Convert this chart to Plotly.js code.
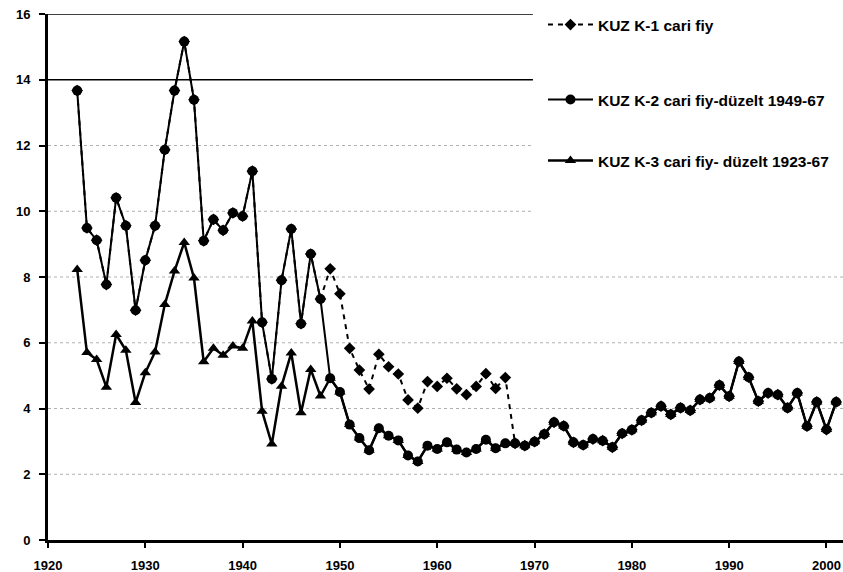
<!DOCTYPE html>
<html>
<head>
<meta charset="utf-8">
<script src="https://cdn.plot.ly/plotly-3.0.1.min.js"></script>
<style>html,body{margin:0;padding:0;background:#fff;}#chart{width:843px;height:572px;}</style>
</head>
<body>
<div id="chart"></div>
<script>
const years = [1923,1924,1925,1926,1927,1928,1929,1930,1931,1932,1933,1934,1935,1936,1937,1938,1939,1940,
  1941,1942,1943,1944,1945,1946,1947,1948,1949,1950,1951,1952,1953,1954,1955,1956,1957,1958,1959,1960,
  1961,1962,1963,1964,1965,1966,1967,1968,1969,1970,1971,1972,1973,1974,1975,1976,1977,1978,1979,1980,
  1981,1982,1983,1984,1985,1986,1987,1988,1989,1990,1991,1992,1993,1994,1995,1996,1997,1998,1999,2000,2001];

// KUZ K-1 cari fiy (identical to K-2 before 1949 and after 1967)
const k1 = [13.67,9.49,9.12,7.77,10.41,9.56,6.99,8.51,9.56,11.87,13.67,15.16,13.39,9.10,9.75,9.42,9.95,9.85,
  11.22,6.62,4.90,7.90,9.46,6.58,8.70,7.33,8.25,7.49,5.83,5.17,4.59,5.65,5.27,5.05,4.26,4.01,4.82,4.67,
  4.92,4.60,4.42,4.67,5.06,4.61,4.94,2.94,2.87,2.99,3.22,3.58,3.47,2.97,2.89,3.07,3.02,2.82,3.24,3.35,
  3.64,3.87,4.07,3.82,4.02,3.94,4.27,4.32,4.71,4.37,5.43,4.95,4.22,4.47,4.42,4.02,4.47,3.46,4.20,3.36,4.20];

// KUZ K-2 cari fiy-düzelt 1949-67
const k2 = [13.67,9.49,9.12,7.77,10.41,9.56,6.99,8.51,9.56,11.87,13.67,15.16,13.39,9.10,9.75,9.42,9.95,9.85,
  11.22,6.62,4.90,7.90,9.46,6.58,8.70,7.33,4.92,4.50,3.51,3.10,2.73,3.40,3.17,3.03,2.57,2.39,2.87,2.77,
  2.97,2.75,2.66,2.77,3.05,2.79,2.94,2.94,2.87,2.99,3.22,3.58,3.47,2.97,2.89,3.07,3.02,2.82,3.24,3.35,
  3.64,3.87,4.07,3.82,4.02,3.94,4.27,4.32,4.71,4.37,5.43,4.95,4.22,4.47,4.42,4.02,4.47,3.46,4.20,3.36,4.20];

// KUZ K-3 cari fiy- düzelt 1923-67
const k3 = [8.23,5.70,5.49,4.65,6.25,5.77,4.18,5.09,5.72,7.16,8.18,9.05,7.97,5.42,5.83,5.62,5.90,5.83,
  6.66,3.92,2.92,4.68,5.69,3.87,5.19,4.38,4.92,4.50,3.51,3.10,2.73,3.40,3.17,3.03,2.57,2.39,2.87,2.77,
  2.97,2.75,2.66,2.77,3.05,2.79,2.94,2.94,2.87,2.99,3.22,3.58,3.47,2.97,2.89,3.07,3.02,2.82,3.24,3.35,
  3.64,3.87,4.07,3.82,4.02,3.94,4.27,4.32,4.71,4.37,5.43,4.95,4.22,4.47,4.42,4.02,4.47,3.46,4.20,3.36,4.20];

const names = ['KUZ K-1 cari fiy', 'KUZ K-2 cari fiy-düzelt 1949-67', 'KUZ K-3 cari fiy- düzelt 1923-67'];
const xTicks = [1920,1930,1940,1950,1960,1970,1980,1990,2000];
const yTicks = [0,2,4,6,8,10,12,14,16];

const FONT = '"Liberation Sans", Arial, sans-serif';

const traces = [
  {x: years, y: k3, name: names[2], type: 'scatter', mode: 'lines+markers', legend: 'legend3', showlegend: true,
   line: {color: '#000', width: 2.5}, marker: {symbol: 'triangle-up', size: 10, color: '#000'}},
  {x: years, y: k1, name: names[0], type: 'scatter', mode: 'lines+markers', legend: 'legend', showlegend: true,
   line: {color: '#000', width: 2, dash: '5px,5px'}, marker: {symbol: 'diamond', size: 9, color: '#000'}},
  {x: years, y: k2, name: names[1], type: 'scatter', mode: 'lines+markers', legend: 'legend2', showlegend: true,
   line: {color: '#000', width: 2}, marker: {symbol: 'circle', size: 10, color: '#000'}}
];

const gridShapes = [];
[2,4,6,8].forEach(v => gridShapes.push({type:'line', xref:'paper', yref:'y', x0:0, x1:1, y0:v, y1:v,
  line:{color:'#b0b0b0', width:1, dash:'dot'}, layer:'below'}));
[10,12].forEach(v => gridShapes.push({type:'line', xref:'paper', yref:'y', x0:0, x1:0.61, y0:v, y1:v,
  line:{color:'#b0b0b0', width:1, dash:'dot'}, layer:'below'}));
[14,16].forEach(v => gridShapes.push({type:'line', xref:'paper', yref:'y', x0:0, x1:0.61, y0:v, y1:v,
  line:{color:'#000', width:1.5}, layer:'below'}));

const legFont = {family: FONT, size: 15.5, weight: 700, color: '#000'};
const legBase = {bgcolor: 'rgba(0,0,0,0)', borderwidth: 0, font: legFont, xanchor: 'left', yanchor: 'middle', itemwidth: 45};

const layout = {
  width: 843, height: 572,
  showlegend: true,
  margin: {l: 48, r: 0, t: 14, b: 32, pad: 0},
  paper_bgcolor: '#fff', plot_bgcolor: '#fff',
  font: {family: FONT, size: 13, weight: 700, color: '#000'},
  xaxis: {range: [1920, 2001.7], tickvals: xTicks, ticktext: xTicks.map(String),
    showgrid: false, zeroline: false, showline: true, linecolor: '#000', linewidth: 3,
    ticks: 'outside', ticklen: 5, tickwidth: 2, tickcolor: '#000', ticklabelstandoff: 6,
    tickfont: {family: FONT, size: 13, weight: 700, color: '#000'}},
  yaxis: {range: [0, 16], tickvals: yTicks, ticktext: yTicks.map(String),
    showgrid: false, zeroline: false, showline: true, linecolor: '#000', linewidth: 3,
    ticks: 'outside', ticklen: 6, tickwidth: 2, tickcolor: '#000', ticklabelstandoff: 6,
    tickfont: {family: FONT, size: 13, weight: 700, color: '#000'}},
  shapes: gridShapes,
  legend: Object.assign({}, legBase, {x: 0.6226, y: 0.979}),
  legend2: Object.assign({}, legBase, {x: 0.6226, y: 0.8365}),
  legend3: Object.assign({}, legBase, {x: 0.6226, y: 0.7205})
};

Plotly.newPlot('chart', traces, layout, {displayModeBar: false, staticPlot: true});
</script>
</body>
</html>
